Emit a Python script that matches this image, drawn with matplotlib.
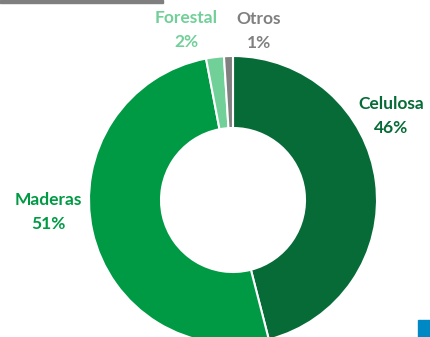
import matplotlib.pyplot as plt
from matplotlib.patches import Rectangle

categories = ['Celulosa', 'Maderas', 'Forestal', 'Otros']
shares = [46, 51, 2, 1]
colors = ['#066B37', '#009A44', '#71CF98', '#808080']

W, H = 431, 337
fig = plt.figure(figsize=(W / 100, H / 100), dpi=100)
ax = fig.add_axes([0, 0, 1, 1])

# donut, starting at 12 o'clock and going clockwise
cx, cy, r = 233, H - 200, 144
ax.pie(shares, colors=colors, startangle=90, counterclock=False,
       center=(cx, cy), radius=r, frame=True,
       wedgeprops=dict(width=r * 0.5, edgecolor='white', linewidth=1.5))
ax.set_xlim(0, W)
ax.set_ylim(0, H)
ax.axis('off')

# label positions (pixels from top-left)
label_pos = [(391, 116), (48, 212), (186, 30), (259, 31)]
for name, val, col, (x, y) in zip(categories, shares, colors, label_pos):
    ax.text(x, H - y, f'{name}\n{val}%', color=col, ha='center', va='center',
            fontsize=12.5, fontweight='bold', family='Lato', linespacing=1.6)

# decorative bits at the edges
ax.add_patch(Rectangle((0, H - 2.5), 163, 2.5, color='#7F7F7F', clip_on=False))
ax.add_patch(Rectangle((418, 0), 14, 17, color='#0088C4', clip_on=False))

fig.savefig('out.png', dpi=100)
